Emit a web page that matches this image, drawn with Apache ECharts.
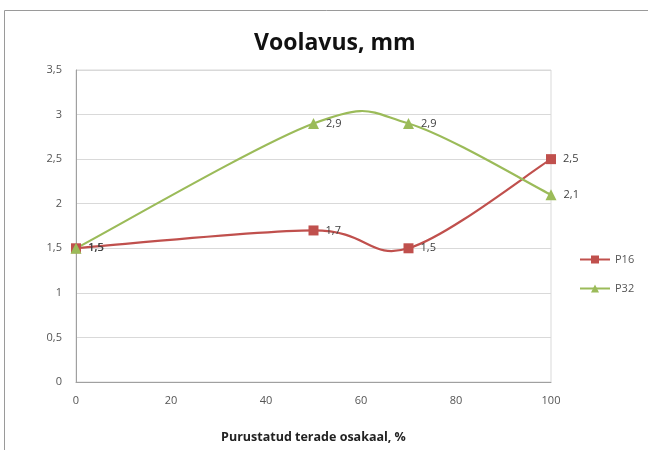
<!DOCTYPE html>
<html><head><meta charset="utf-8">
<script src="https://cdn.jsdelivr.net/npm/echarts@6/dist/echarts.min.js"></script>
<style>html,body{margin:0;padding:0;background:#fff}#c{width:648px;height:450px}</style>
</head><body><div id="c"></div>
<script>
var xValues = [0, 50, 70, 100];
var p16 = [1.5, 1.7, 1.5, 2.5];
var p32 = [1.5, 2.9, 2.9, 2.1];
var seriesNames = ['P16', 'P32'];
var titleText = 'Voolavus, mm';
var xName = 'Purustatud terade osakaal, %';

var colors = ['#c0504d', '#9bbb59'];
function pairs(v){ return xValues.map(function(x,i){return [x, v[i]];}); }
function comma(v){ return String(v).replace('.', ','); }

// Excel-like smoothed curve (Catmull-Rom bezier) drawn through the axis scales
function curveSeries(vals, color){
  var data = pairs(vals);
  return {
    type:'custom', silent:true, z:1, data: data, encode:{x:0, y:1},
    renderItem: function(params, api){
      if (params.dataIndex !== 0) return null;
      var pts = data.map(function(d){ return api.coord(d); });
      var path = 'M' + pts[0][0] + ' ' + pts[0][1];
      for (var i = 0; i < pts.length - 1; i++){
        var p0 = pts[Math.max(i-1,0)], p1 = pts[i], p2 = pts[i+1], p3 = pts[Math.min(i+2, pts.length-1)];
        var c1 = [p1[0] + (p2[0]-p0[0])/6, p1[1] + (p2[1]-p0[1])/6];
        var c2 = [p2[0] - (p3[0]-p1[0])/6, p2[1] - (p3[1]-p1[1])/6];
        path += ' C' + c1[0] + ' ' + c1[1] + ' ' + c2[0] + ' ' + c2[1] + ' ' + p2[0] + ' ' + p2[1];
      }
      return {type:'path', shape:{pathData: path}, style:{fill:null, stroke: color, lineWidth: 2.2}};
    }
  };
}

function labelCfg(){
  return {show:true, position:'right', distance:7, fontFamily:'Open Sans', fontSize:11, color:'#404040',
    formatter:function(p){return comma(p.value[1]);}};
}

var chart = echarts.init(document.getElementById('c'));
chart.setOption({
  backgroundColor: '#fff',
  animation: false,
  graphic: [{type:'rect', shape:{x:4.5,y:10.5,width:700,height:500}, style:{fill:'none', stroke:'#9a9a9a', lineWidth:1}, silent:true, z:-1}],
  title: {text: titleText, left: 249, top: 27, textStyle:{fontFamily:'Open Sans', fontSize:23, fontWeight:'bold', color:'#111'}},
  grid: {left: 76, right: 97, top: 70, bottom: 68, show: true, borderColor: '#d9d9d9', borderWidth: 1, backgroundColor:'#fff'},
  legend: {orient:'vertical', left: 574, top: 249, itemGap: 18, itemWidth: 30, itemHeight: 10,
    textStyle:{fontFamily:'Open Sans', fontSize:11, color:'#555'},
    data: [
      {name: seriesNames[0], lineStyle:{width:2, color: colors[0], opacity:1}},
      {name: seriesNames[1], lineStyle:{width:2, color: colors[1], opacity:1}}
    ]},
  xAxis: {type:'value', min:0, max:100, interval:20,
    name: xName, nameLocation:'middle', nameGap: 49,
    nameTextStyle:{fontFamily:'Open Sans', fontSize:12.5, fontWeight:'bold', color:'#222'},
    axisLine:{lineStyle:{color:'#a0a0a0'}}, axisTick:{show:false}, splitLine:{show:false},
    axisLabel:{fontFamily:'Open Sans', fontSize:11, color:'#555', margin:13}},
  yAxis: {type:'value', min:0, max:3.5, interval:0.5,
    axisLine:{show:true, lineStyle:{color:'#a0a0a0'}}, axisTick:{show:false},
    splitLine:{lineStyle:{color:'#d9d9d9'}},
    axisLabel:{fontFamily:'Open Sans', fontSize:11, color:'#555', margin:14, formatter: function(v){return comma(v);}}},
  series: [
    {name: seriesNames[0], type:'line', data: pairs(p16), z:3,
     symbol:'rect', symbolSize: 10, showAllSymbol:true, color: colors[0], lineStyle:{width:0, opacity:0},
     label: labelCfg()},
    {name: seriesNames[1], type:'line', data: pairs(p32), z:3,
     symbol:'triangle', symbolSize: 11, showAllSymbol:true, color: colors[1], lineStyle:{width:0, opacity:0},
     label: labelCfg()},
    curveSeries(p16, colors[0]),
    curveSeries(p32, colors[1])
  ]
});
</script></body></html>
